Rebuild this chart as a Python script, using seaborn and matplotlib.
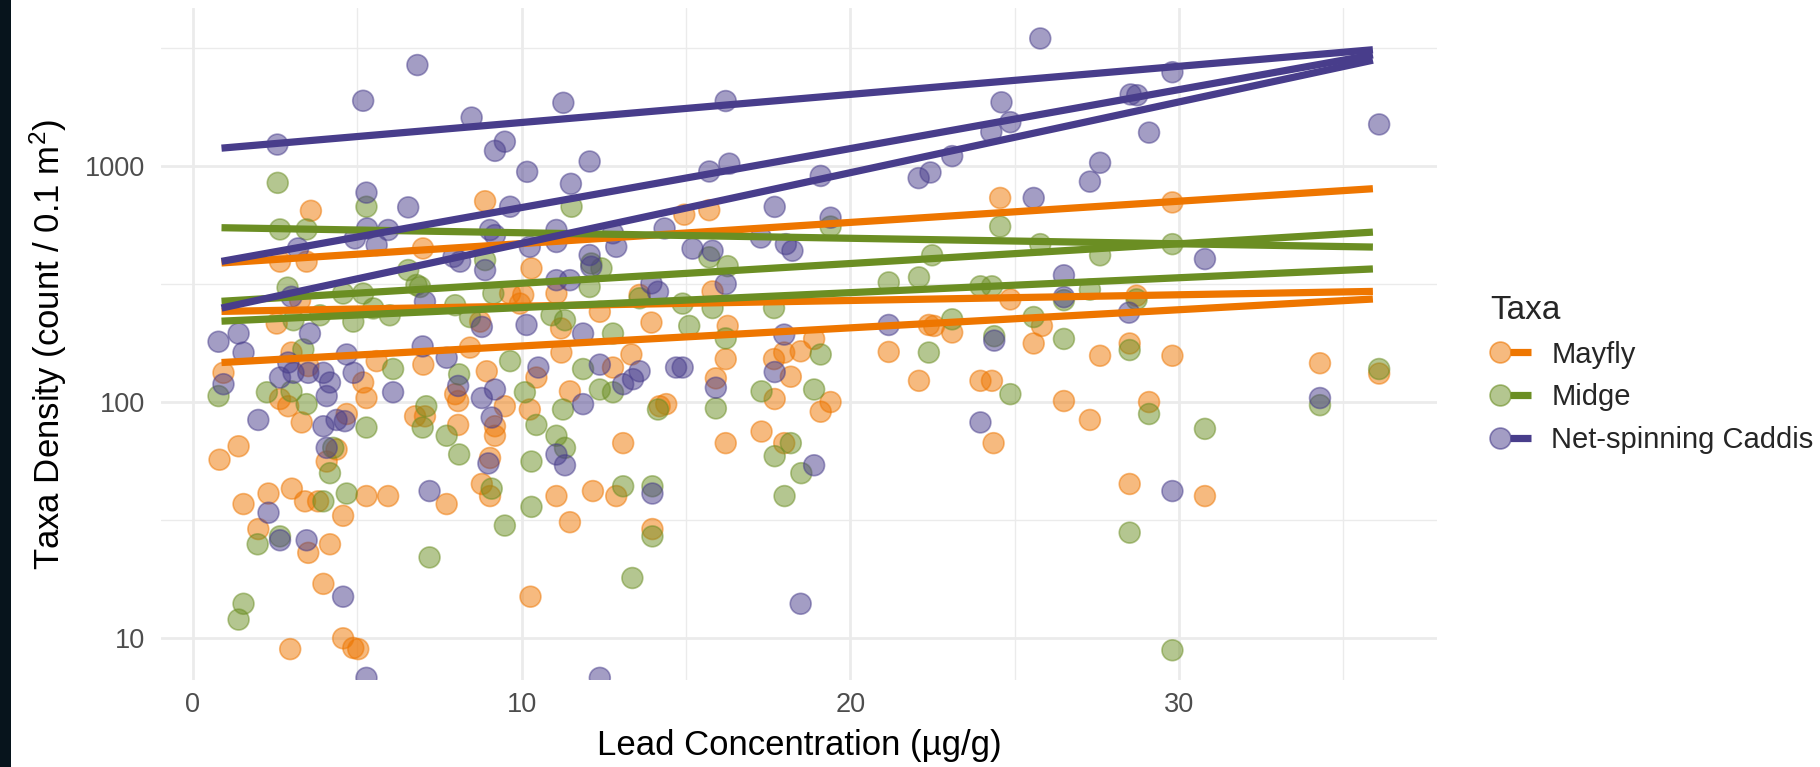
import numpy as np
import pandas as pd
import matplotlib
matplotlib.use("Agg")
import matplotlib.pyplot as plt
import seaborn as sns
from matplotlib.lines import Line2D
from matplotlib.legend_handler import HandlerTuple
from matplotlib.patches import Rectangle
from matplotlib.colors import to_rgba

# ---------------- data ----------------
taxa = ["Mayfly", "Midge", "Net-spinning Caddis"]
colors = ["#EE7600", "#6B8E23", "#483D8B"]

mayfly_x = [3.59, 2.65, 3.46, 7.0, 3.26, 2.55,
            0.93, 3.0, 3.51, 2.65, 2.9, 3.31, 4.68, 5.18, 5.28, 5.59, 1.39, 0.81, 4.07, 4.37,
            1.54, 2.3, 3.01, 3.41, 3.81, 4.57, 5.28, 5.94, 1.99, 3.51, 4.17, 3.97, 4.57, 4.88,
            5.03, 2.96, 6.76,
            8.89, 10.3, 9.65, 10.05, 11.06, 12.38, 13.59, 13.95, 9.95, 8.74, 11.2,
            7.01, 8.43, 8.94, 7.98, 8.07, 9.49, 10.25, 10.45, 11.47, 12.78, 13.34, 11.21, 7.06,
            8.07, 9.19, 9.19, 9.04, 8.79, 9.04, 7.72, 11.06, 12.17, 12.88, 11.47, 13.09, 13.98,
            14.2, 14.4, 10.27,
            24.56, 14.95, 15.71, 15.81, 16.27, 16.21, 15.91, 17.68, 17.99, 18.49, 18.9, 18.19,
            17.7, 19.1, 19.4, 16.21, 17.3, 17.99, 21.17, 22.09, 22.39, 22.55, 23.1, 23.96, 24.31,
            24.87, 25.58, 25.83, 24.36,
            29.8, 28.71, 27.6, 28.5, 29.8, 26.5, 27.29, 29.09, 28.5, 30.79, 34.29, 36.09]
mayfly_y = [645, 393, 393, 447, 270, 215,
            133, 162, 142, 103, 96, 82, 89, 121, 104, 149, 65, 57, 56, 63,
            37, 41, 43, 38, 38, 33, 40, 40, 29, 23, 25, 17, 10, 9.1,
            9.0, 9.0, 87,
            708, 368, 288, 284, 288, 241, 284, 217, 261, 219, 205,
            144, 170, 135, 108, 101, 96, 93, 127, 111, 140, 159, 162, 87,
            80, 79, 72, 58, 45, 40, 37, 40, 42, 40, 31, 67, 29,
            96, 98, 15,
            731, 621, 649, 294, 210, 152, 126, 152, 162, 164, 185, 128,
            103, 91, 100, 67, 75, 67, 163, 123, 212, 210, 197, 123, 123,
            272, 177, 210, 67,
            700, 282, 157, 177, 157, 101, 84, 100, 45, 40, 146, 132]

midge_x = [2.58, 5.28, 2.65, 3.46, 6.55, 2.88, 4.57, 5.18, 3.87, 5.49, 5.99, 4.88, 3.06, 6.8,
           0.78, 2.25, 3.0, 3.46, 5.28, 6.09, 4.17, 4.27, 4.68, 3.97, 1.97, 2.65, 1.54, 1.39, 3.36,
           11.52, 8.89, 6.91, 12.12, 12.43, 9.14, 7.98, 8.43, 10.91, 11.32, 13.59, 12.78, 12.07,
           9.65, 8.1, 7.1, 6.99, 7.72, 8.1, 10.1, 10.45, 11.26, 11.06, 11.32, 11.87, 12.38, 12.78,
           9.09, 10.3, 10.3, 9.49, 7.2, 13.09, 13.98, 13.98, 13.37, 14.15,
           19.4, 24.56, 25.78, 22.49, 22.09, 21.17, 15.71, 16.27, 14.9, 15.81, 15.1, 17.68, 16.21,
           23.96, 24.31, 23.1, 25.58, 22.39, 24.38, 19.1, 18.9, 15.91, 17.3, 18.19, 17.7, 18.51,
           18.0, 24.87,
           29.8, 27.6, 27.29, 26.5, 26.5, 28.71, 28.5, 29.09, 30.79, 28.5, 29.8, 34.29, 36.09]
midge_y = [847, 671, 538, 538, 362, 305, 288, 288, 233, 249, 233, 219, 222, 313,
           106, 110, 111, 98, 78, 138, 50, 64, 41, 38, 25, 27, 14, 12, 167,
           671, 399, 307, 386, 368, 288, 257, 229, 233, 222, 275, 195, 307,
           149, 131, 96, 78, 72, 60, 110, 80, 93, 72, 64, 138, 113, 110,
           43, 56, 36, 30, 22, 44, 44, 27, 18, 93,
           553, 553, 466, 418, 337, 321, 410, 376, 261, 250, 210, 250, 186,
           309, 309, 224, 229, 162, 190, 159, 113, 94, 111, 67, 59, 50,
           40, 108,
           466, 418, 299, 270, 185, 272, 166, 89, 77, 28, 8.9, 97, 138]

caddis_x = [6.83, 5.18, 2.57, 5.28, 6.55, 5.3, 4.93, 5.59, 5.94, 3.2, 3.0, 0.78, 1.39, 3.56,
            1.54, 0.93, 1.99, 2.9, 2.65, 3.06, 3.51, 3.97, 4.17, 4.07, 3.97, 4.37, 4.62, 4.07,
            4.89, 4.68, 6.09, 2.3, 2.65, 3.46, 4.57, 5.28,
            8.48, 9.49, 9.19, 11.27, 10.17, 12.07, 11.5, 9.65, 9.04, 9.19, 11.06, 11.06, 12.78,
            12.88, 10.25, 7.93, 8.13, 8.89, 12.07, 12.12, 14.35, 11.06, 11.47, 13.95, 14.15, 7.06,
            8.79, 10.15, 11.87,
            6.99, 7.72, 8.07, 8.79, 9.19, 9.09, 8.99, 10.51, 11.87, 12.38, 13.09, 13.39, 13.59,
            11.06, 11.32, 7.2, 13.98, 12.38, 14.7,
            25.78, 16.21, 24.6, 24.87, 24.29, 23.1, 15.71, 16.32, 19.1, 22.08, 22.44, 25.58, 17.7,
            19.4, 17.28, 15.2, 15.81, 18.04, 18.24, 16.21, 17.99, 14.9, 15.91, 17.7, 21.17, 24.38,
            23.96, 18.9, 18.49,
            29.8, 28.53, 28.73, 29.09, 27.6, 27.29, 36.09, 30.79, 26.5, 26.5, 28.48, 34.29, 29.8]
caddis_y = [2670, 1885, 1230, 770, 667, 543, 493, 462, 535, 447, 279, 180, 195, 195,
            162, 119, 84, 147, 127, 133, 133, 133, 121, 106, 79, 84, 83, 64,
            133, 159, 110, 34, 26, 26, 15, 6.8,
            1600, 1265, 1157, 1848, 943, 1043, 839, 671, 535, 509, 535, 476, 518,
            454, 454, 412, 393, 362, 419, 374, 543, 328, 328, 318, 293, 266,
            208, 212, 195,
            172, 154, 117, 104, 113, 86, 55, 140, 98, 144, 119, 125, 135,
            60, 54, 42, 41, 6.8, 140,
            3460, 1880, 1857, 1530, 1392, 1099, 946, 1021, 906, 887, 937, 731, 670,
            603, 497, 446, 437, 466, 437, 316, 193, 140, 115, 134, 212, 182,
            82, 54, 14,
            2490, 2005, 1990, 1382, 1030, 857, 1497, 403, 344, 278, 239, 104, 42]

# fitted trend lines (three per taxon): value at the first and last x
line_x = [0.87, 35.9]
mayfly_lines = [(388, 800), (242, 294), (147, 273)]
midge_lines = [(547, 453), (267, 524), (220, 366)]
caddis_lines = [(1188, 3100), (394, 2950), (250, 2800)]

x_ticks = [0, 10, 20, 30]
y_ticks = [10, 100, 1000]
y_tick_labels = ["10", "100", "1000"]

# ---------------- frames ----------------
pts = pd.concat([
    pd.DataFrame({"x": mayfly_x, "y": mayfly_y, "Taxa": taxa[0]}),
    pd.DataFrame({"x": midge_x, "y": midge_y, "Taxa": taxa[1]}),
    pd.DataFrame({"x": caddis_x, "y": caddis_y, "Taxa": taxa[2]}),
], ignore_index=True)

rows = []
for t, lines in zip(taxa, [mayfly_lines, midge_lines, caddis_lines]):
    for i, (y0, y1) in enumerate(lines):
        rows.append({"x": line_x[0], "y": y0, "Taxa": t, "line": f"{t}-{i}"})
        rows.append({"x": line_x[1], "y": y1, "Taxa": t, "line": f"{t}-{i}"})
lns = pd.DataFrame(rows)

palette = dict(zip(taxa, colors))

# ---------------- style ----------------
sns.set_style("white")
plt.rcParams["font.family"] = ["Liberation Sans", "DejaVu Sans"]
plt.rcParams["mathtext.fontset"] = "custom"
plt.rcParams["mathtext.rm"] = "Liberation Sans"
plt.rcParams["mathtext.it"] = "Liberation Sans:italic"
plt.rcParams["mathtext.bf"] = "Liberation Sans:bold"

W, H = 1820, 767
fig = plt.figure(figsize=(W / 100, H / 100), dpi=100)
L, R, T, B = 160.7, 1437, 8, 680
ax = fig.add_axes([L / W, 1 - B / H, (R - L) / W, (B - T) / H])

sns.scatterplot(data=pts, x="x", y="y", hue="Taxa", palette=palette, hue_order=taxa,
                s=225, alpha=0.5, edgecolor="face", linewidth=1.2, legend=False,
                ax=ax, zorder=3)
sns.lineplot(data=lns, x="x", y="y", hue="Taxa", units="line", estimator=None,
             palette=palette, hue_order=taxa, linewidth=5.2, legend=False, sort=False,
             ax=ax, zorder=4)
for l in ax.lines:
    l.set_solid_capstyle("butt")

ax.set_yscale("log")
ax.set_xlim(-0.98, 37.85)
ax.set_ylim(6.66, 4656)
ax.set_xticks(x_ticks)
ax.set_xticklabels([str(v) for v in x_ticks])
ax.set_yticks(y_ticks)
ax.set_yticklabels(y_tick_labels)
ax.yaxis.set_minor_locator(matplotlib.ticker.FixedLocator([10 ** 0.5 * 10, 10 ** 0.5 * 100, 10 ** 0.5 * 1000]))
ax.yaxis.set_minor_formatter(matplotlib.ticker.NullFormatter())
ax.xaxis.set_minor_locator(matplotlib.ticker.FixedLocator([5, 15, 25, 35]))

ax.grid(True, which="major", color="#EBEBEB", linewidth=2.0)
ax.grid(True, which="minor", color="#EBEBEB", linewidth=1.0)
ax.set_axisbelow(True)
for s in ax.spines.values():
    s.set_visible(False)
ax.tick_params(which="both", length=0)
ax.tick_params(axis="y", pad=11.5, labelsize=19.5, labelcolor="#4D4D4D")
ax.tick_params(axis="x", pad=9, labelsize=19.5, labelcolor="#4D4D4D")

ax.set_xlabel("Lead Concentration (\u00b5g/g)", fontsize=25, color="black", va="center")
ax.xaxis.set_label_coords(0.5, (B - 745) / (B - T))
ax.set_ylabel("Taxa Density (count / 0.1 m$^{2}$)", fontsize=25, color="black", va="center")
ax.yaxis.set_label_coords((48 - L) / (R - L), 0.5)

# legend
handles = []
for c in colors:
    pt = Line2D([0], [0], linestyle="none", marker="o", markersize=15,
                markerfacecolor=to_rgba(c, 0.5), markeredgecolor=to_rgba(c, 0.6),
                markeredgewidth=1.2)
    ln = Line2D([0], [0], color=c, linewidth=5.2, solid_capstyle="butt")
    handles.append((pt, ln))
leg = fig.legend(handles, taxa, title="Taxa", loc="upper left",
                 bbox_to_anchor=(1490 / W, 1 - 295 / H), frameon=False,
                 borderpad=0, borderaxespad=0, fontsize=21, title_fontsize=24,
                 handlelength=1.4, handletextpad=0.7, labelspacing=0.5,
                 handler_map={tuple: HandlerTuple(ndivide=None, pad=0)})
leg._legend_box.align = "left"

# dark strip at the left edge of the reference image
fig.patches.append(Rectangle((0, 0), 11 / W, 1, transform=fig.transFigure,
                             facecolor="#07141c", edgecolor="none", zorder=10))

fig.savefig("out.png", dpi=100)
